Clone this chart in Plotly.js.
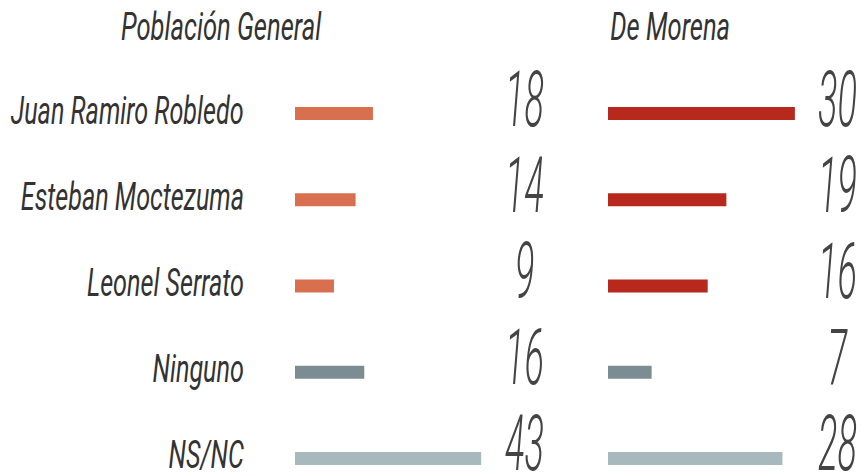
<!DOCTYPE html>
<html><head><meta charset="utf-8">
<script src="https://cdn.plot.ly/plotly-3.0.1.min.js"></script>
<style>body{margin:0;background:#fff}#chart{width:862px;height:474px}</style>
</head><body><div id="chart"></div>
<script>
const categories = ["Juan Ramiro Robledo","Esteban Moctezuma","Leonel Serrato","Ninguno","NS/NC"];
const generalValues = [18,14,9,16,43];
const morenaValues = [30,19,16,7,28];
const panelTitles = ["Población General","De Morena"];
const generalColors = ["#d8704f","#d8704f","#d8704f","#7b8d92","#a7b9bd"];
const morenaColors = ["#b8291d","#b8291d","#b8291d","#7b8d92","#a7b9bd"];

const W = 862;
const FONT = "Roboto, 'Open Sans', sans-serif";
const traces = [
  {type:"bar", orientation:"h", y:categories, x:generalValues, xaxis:"x", yaxis:"y",
   marker:{color:generalColors}, width:0.15, hoverinfo:"skip"},
  {type:"bar", orientation:"h", y:categories, x:morenaValues, xaxis:"x2", yaxis:"y2",
   marker:{color:morenaColors}, width:0.15, hoverinfo:"skip"}
];
const yr = [4.18, -1.316];
const numFont = {family:FONT, size:77, color:"#444", style:"italic", weight:300};
const labFont = {family:FONT, size:38, color:"#333", style:"italic", weight:400};
const annotations = [];
categories.forEach((c,i)=>{
  annotations.push({xref:"paper", x:246/W, yref:"y", y:c, text:c,
    showarrow:false, xanchor:"right", yanchor:"middle", yshift:3, font:labFont});
  annotations.push({xref:"paper", x:524/W, yref:"y", y:c, text:String(generalValues[i]),
    showarrow:false, xanchor:"center", yanchor:"middle", yshift:14, font:numFont});
  annotations.push({xref:"paper", x:837/W, yref:"y", y:c, text:String(morenaValues[i]),
    showarrow:false, xanchor:"center", yanchor:"middle", yshift:14, font:numFont});
});
annotations.push({xref:"paper", x:222/W, yref:"paper", y:1-27/474, text:panelTitles[0], showarrow:false,
  xanchor:"center", yanchor:"middle", font:labFont});
annotations.push({xref:"paper", x:670/W, yref:"paper", y:1-27/474, text:panelTitles[1], showarrow:false,
  xanchor:"center", yanchor:"middle", font:labFont});

const layout = {
  width:862, height:474, margin:{l:0,r:0,t:0,b:0}, showlegend:false,
  paper_bgcolor:"#fff", plot_bgcolor:"rgba(0,0,0,0)",
  xaxis:{domain:[295/W, 540/W], range:[0, 245/4.33], visible:false, fixedrange:true},
  xaxis2:{domain:[608/W, 1], range:[0, 254/6.23], visible:false, fixedrange:true},
  yaxis:{type:"category", range:yr, anchor:"x", visible:false},
  yaxis2:{type:"category", range:yr, anchor:"x2", matches:"y", visible:false},
  annotations:annotations
};
function squeeze(el, s, origin){
  el.style.transformBox="fill-box";
  el.style.transformOrigin=origin;
  el.style.transform="scaleX("+s+")";
}
Plotly.newPlot("chart", traces, layout, {staticPlot:true}).then(()=>{
  const anns = Array.from(document.querySelectorAll("#chart .annotation-text"));
  const byText = s => anns.find(t=>t.textContent.trim()===s);
  const t1 = byText(panelTitles[0]);
  const ts = t1 ? 201 / t1.getBBox().width : 0.7;
  const c1 = byText(categories[0]);
  const cs = c1 ? 233 / c1.getBBox().width : 0.7;
  anns.forEach(t=>{
    const s = t.textContent.trim();
    if(/^\d+$/.test(s)) squeeze(t, 0.47, "center");
    else if(panelTitles.includes(s)) squeeze(t, ts, "center");
    else if(categories.includes(s)) squeeze(t, cs, "right center");
  });
});
</script></body></html>
